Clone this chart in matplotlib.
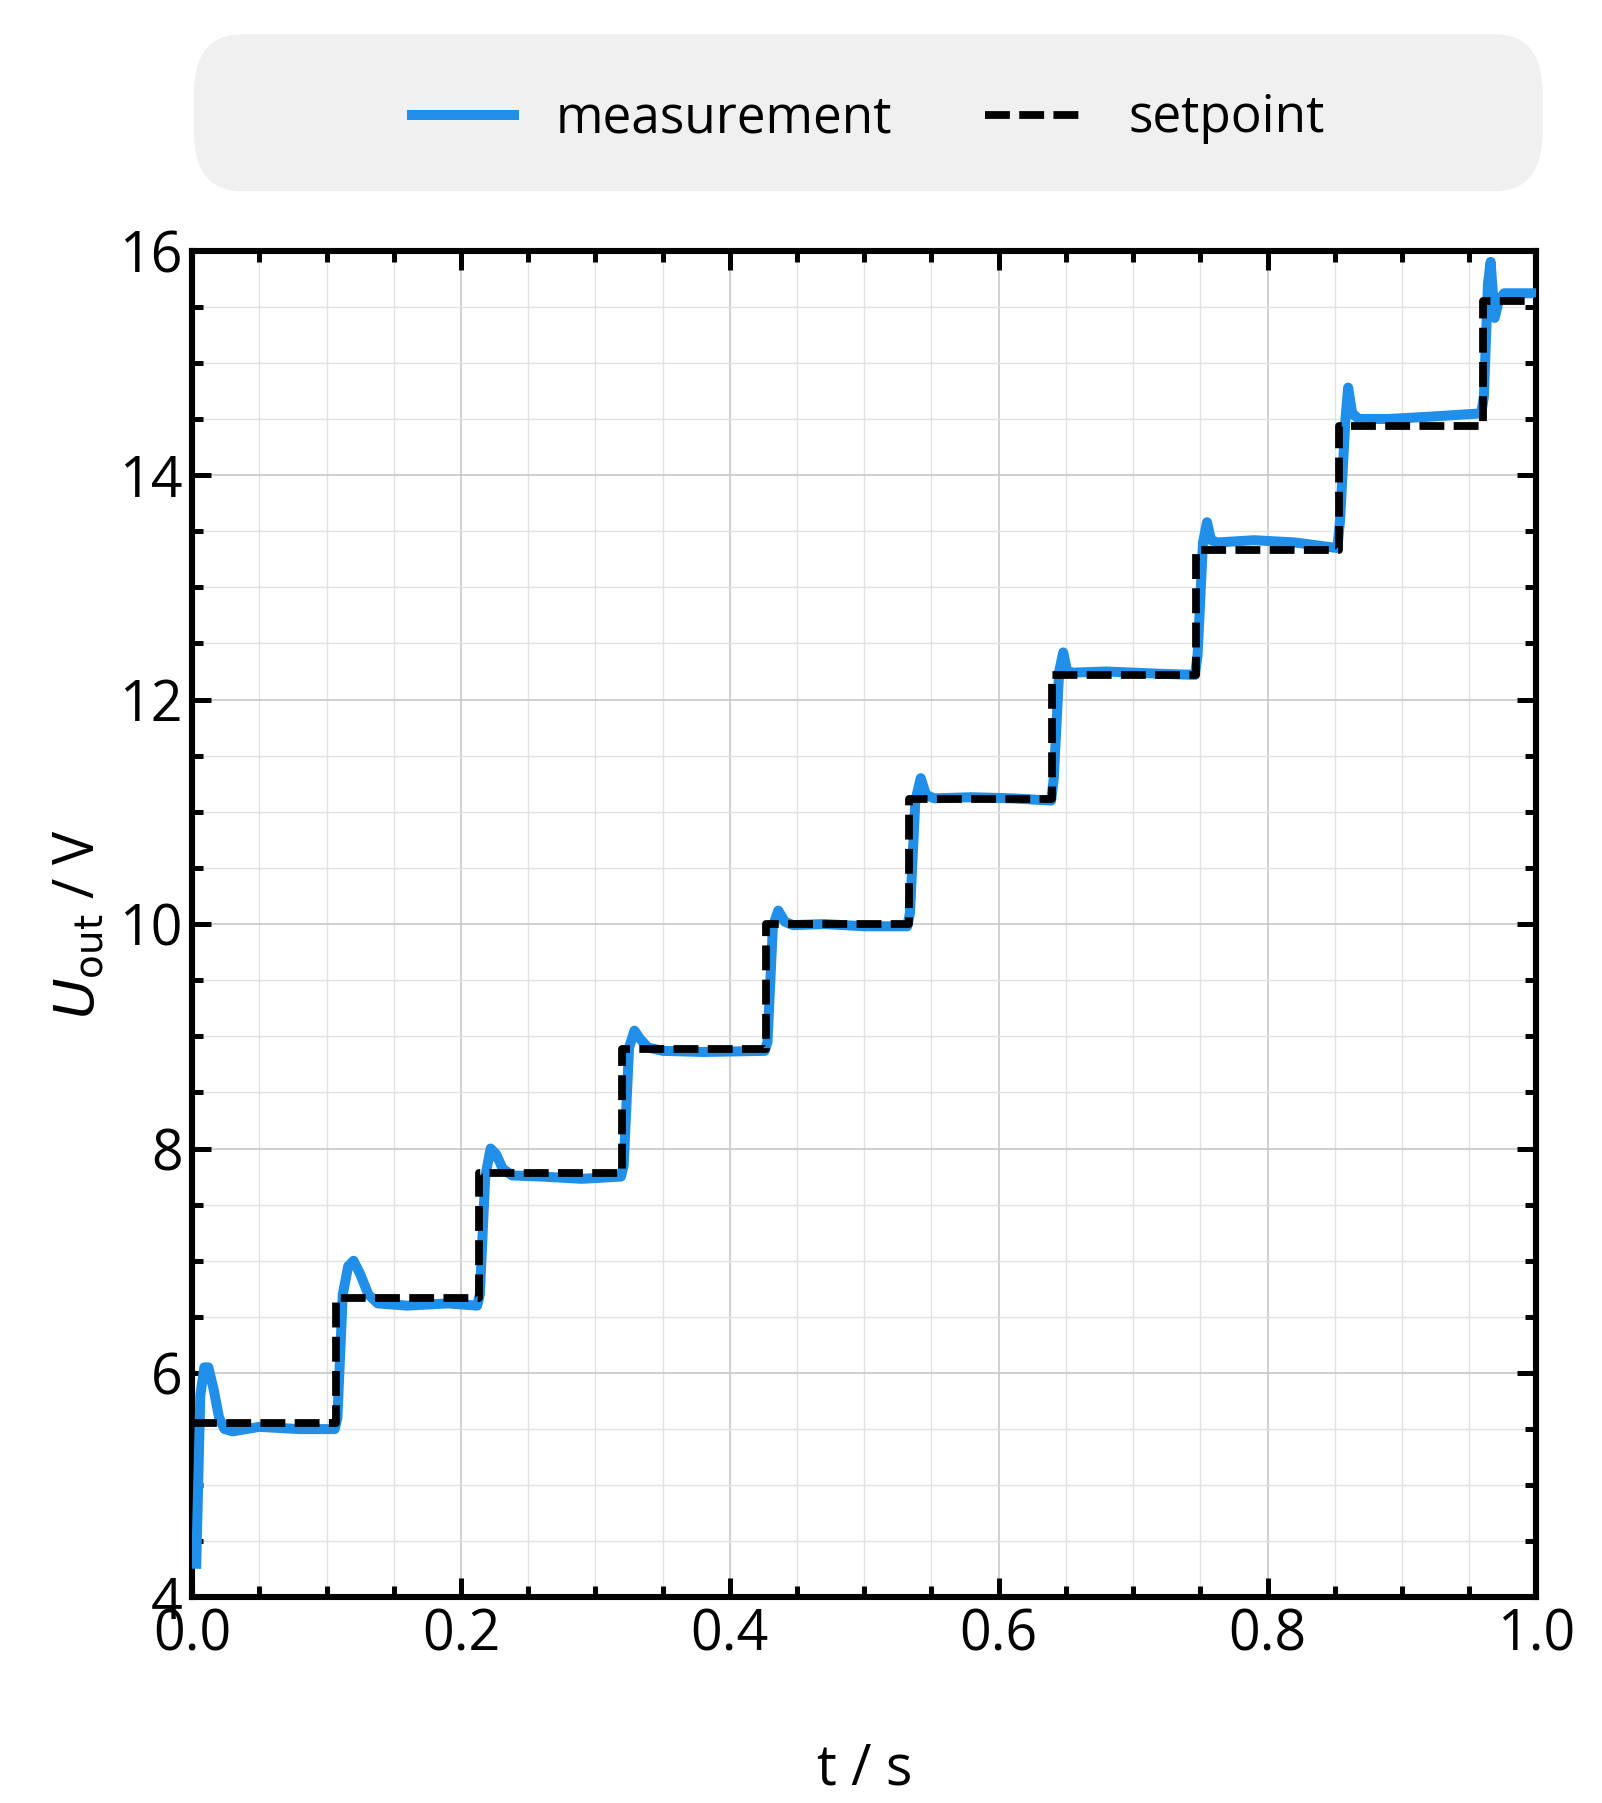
import matplotlib
matplotlib.use("Agg")
import matplotlib.pyplot as plt
from matplotlib.ticker import MultipleLocator
from matplotlib.patches import FancyBboxPatch

plt.rcParams['font.family'] = ['Open Sans', 'DejaVu Sans']

sp_t = [0.0, 0.1067, 0.2133, 0.32, 0.4267, 0.5333, 0.64, 0.7467, 0.8533, 0.96, 1.0]
sp_v = [5.55, 6.67, 7.78, 8.89, 10.0, 11.11, 12.22, 13.33, 14.44, 15.55, 15.55]

meas_t = [0.003, 0.006, 0.009, 0.012, 0.016, 0.020, 0.024, 0.030, 0.05, 0.08, 0.106,
          0.108, 0.112, 0.116, 0.120, 0.125, 0.131, 0.138, 0.16, 0.19, 0.212,
          0.214, 0.218, 0.222, 0.226, 0.231, 0.238, 0.26, 0.29, 0.319,
          0.321, 0.325, 0.329, 0.333, 0.339, 0.35, 0.38, 0.426,
          0.428, 0.432, 0.436, 0.441, 0.447, 0.47, 0.50, 0.532,
          0.534, 0.538, 0.542, 0.546, 0.552, 0.58, 0.61, 0.639,
          0.641, 0.645, 0.648, 0.651, 0.656, 0.68, 0.72, 0.746,
          0.748, 0.752, 0.755, 0.758, 0.763, 0.79, 0.82, 0.852,
          0.854, 0.858, 0.860, 0.863, 0.868, 0.89, 0.92, 0.959,
          0.961, 0.964, 0.966, 0.969, 0.972, 0.976, 0.99, 1.0]
meas_v = [4.3, 5.8, 6.05, 6.05, 5.85, 5.6, 5.5, 5.48, 5.52, 5.5, 5.5,
          5.6, 6.7, 6.95, 7.0, 6.88, 6.7, 6.62, 6.6, 6.62, 6.6,
          6.7, 7.75, 8.0, 7.95, 7.82, 7.76, 7.75, 7.73, 7.75,
          7.85, 8.9, 9.05, 8.98, 8.9, 8.87, 8.86, 8.87,
          8.95, 9.98, 10.12, 10.02, 9.99, 10.0, 9.98, 9.98,
          10.1, 11.1, 11.3, 11.15, 11.12, 11.13, 11.12, 11.1,
          11.3, 12.25, 12.42, 12.25, 12.24, 12.25, 12.23, 12.22,
          12.4, 13.4, 13.58, 13.42, 13.4, 13.42, 13.4, 13.35,
          13.6, 14.5, 14.78, 14.55, 14.5, 14.5, 14.52, 14.55,
          14.7, 15.7, 15.9, 15.4, 15.55, 15.62, 15.62, 15.62]

fig = plt.figure(figsize=(8.01, 9.015), dpi=200)
ax = fig.add_axes([0.120, 0.114, 0.839, 0.747])

ax.plot(meas_t, meas_v, color='#1f8fea', lw=3.6, label='measurement', zorder=3)
ax.step(sp_t, sp_v, where='post', color='black', lw=2.8, ls=(0, (3.2, 1.2)), label='setpoint', zorder=4)

ax.set_xlim(0, 1)
ax.set_ylim(4, 16)
ax.xaxis.set_major_locator(MultipleLocator(0.2))
ax.xaxis.set_minor_locator(MultipleLocator(0.05))
ax.yaxis.set_major_locator(MultipleLocator(2))
ax.yaxis.set_minor_locator(MultipleLocator(0.5))
ax.grid(which='major', color='#c8c8c8', lw=0.6)
ax.grid(which='minor', color='#e2e2e2', lw=0.5)
ax.tick_params(which='both', direction='in', top=True, right=True, labelsize=20, width=1.8)
ax.tick_params(which='major', length=7)
ax.tick_params(which='minor', length=4)
for s in ax.spines.values():
    s.set_linewidth(2.2)
ax.set_xlabel('t / s', fontsize=20, labelpad=28)
ax.set_ylabel(r'$U_{\rm out}$ / V', fontsize=20)

bg = FancyBboxPatch((0.121, 0.894), 0.842, 0.087, boxstyle='round,pad=0,rounding_size=0.03',
                    transform=fig.transFigure, facecolor='#f0f0f0', edgecolor='none',
                    mutation_aspect=1.1)
fig.patches.append(bg)
h, l = ax.get_legend_handles_labels()
fig.legend(h, l, loc='center', bbox_to_anchor=(0.542, 0.934), ncol=2, frameon=False,
           fontsize=18.5, handlelength=2.0, columnspacing=1.8, handletextpad=0.8)

fig.savefig('out.png', dpi=200)
